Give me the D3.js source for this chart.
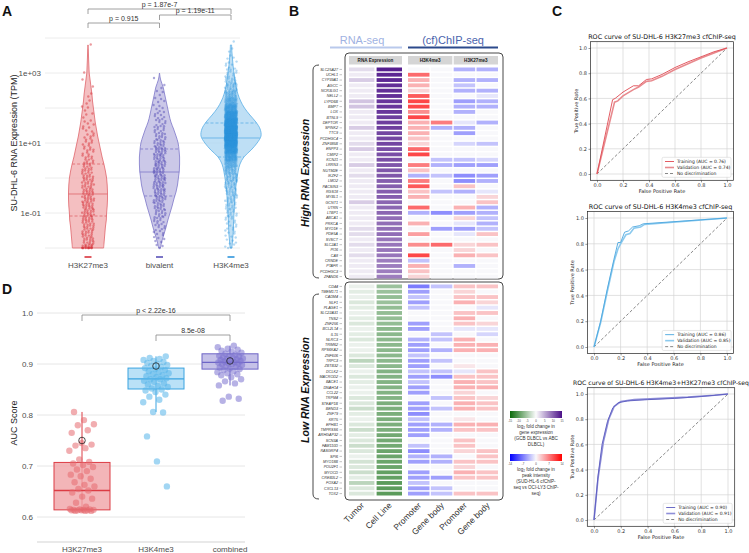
<!DOCTYPE html>
<html>
<head>
<meta charset="utf-8">
<script src="https://cdn.jsdelivr.net/npm/d3@7"></script>
<style>
body{margin:0;background:#fff}
svg{font-family:"Liberation Sans",Arial,sans-serif}
</style>
</head>
<body>
<svg id="fig" width="749" height="553"></svg>
<script>
// ---------- A: violin data (log10 TPM levels, relative density, point counts)
const violinGroups = ['H3K27me3','bivalent','H3K4me3'];
const logLevels = [-2,-1.8,-1.6,-1.4,-1.2,-1,-0.8,-0.6,-0.4,-0.2,0,0.2,0.4,0.6,0.8,1,1.2,1.4,1.6,1.8,2,2.2,2.4,2.6,2.8,3,3.2,3.4,3.6,3.8];
const densK27 = [52,54,56,58,61,62,64,65,65,64,62,58,53,47,42,37,32,28,24,21,18,15,13,10,7,4,3,2,1.3,0.7];
const densBiv = [3,8,15,22,28,35,42,48,55,60,63,66,67,67,65,62,55,47,38,32,27,22,17,12,4,0,0,0,0,0];
const densK4 = [3,5,7,8,9,10,11,13,14,17,20,24,30,43,67,87,100,97,83,63,45,32,23,17,13,10,7,5,3,2];
const countK27 = [22,14,14,14,15,16,16,16,15,14,13,12,10,9,8,7,6,5,4,3,3,2,2,1,1,1,0,0,0,1];
const countBiv = [3,4,6,8,10,12,14,16,17,18,18,18,18,17,16,14,12,10,8,7,5,4,3,2,1,0,0,0,0,0];
const countK4 = [4,5,6,7,8,10,12,14,17,20,26,34,50,80,140,230,280,260,200,140,90,55,35,22,14,9,6,4,2,1];
const violinQ1 = [-1.086,-0.514,0.6];
const violinMedian = [-0.457,0.171,1.143];
const violinQ3 = [0.4,0.829,1.571];
const tpmTicks = [0.1,10,1000];
const compA = [['H3K27me3','H3K4me3','p = 1.87e-7'],['H3K27me3','bivalent','p = 0.915'],['bivalent','H3K4me3','p = 1.19e-11']];

// ---------- D: AUC scores
const aucGroups = ['H3K27me3','H3K4me3','combined'];
const aucK27 = [0.612,0.612,0.612,0.613,0.613,0.613,0.613,0.614,0.614,0.614,0.615,0.615,0.616,0.62,0.628,0.636,0.64,0.648,0.652,0.655,0.66,0.663,0.668,0.675,0.68,0.683,0.69,0.693,0.698,0.702,0.705,0.708,0.713,0.73,0.735,0.74,0.742,0.745,0.765,0.77,0.78,0.782,0.79,0.806];
const aucK4 = [0.66,0.709,0.758,0.805,0.806,0.825,0.83,0.836,0.84,0.845,0.848,0.85,0.852,0.855,0.857,0.86,0.862,0.865,0.867,0.87,0.87,0.872,0.874,0.876,0.878,0.88,0.882,0.884,0.886,0.888,0.89,0.892,0.894,0.896,0.898,0.9,0.902,0.904,0.906,0.908,0.91,0.912,0.915];
const aucComb = [0.828,0.832,0.836,0.858,0.862,0.866,0.87,0.874,0.878,0.88,0.882,0.884,0.886,0.888,0.89,0.891,0.893,0.895,0.896,0.898,0.9,0.9,0.901,0.902,0.903,0.904,0.905,0.906,0.907,0.908,0.909,0.91,0.911,0.912,0.913,0.914,0.915,0.916,0.918,0.92,0.922,0.924,0.926,0.928,0.93,0.933,0.936];
const boxQ1 = [0.614,0.851,0.890];
const boxMedian = [0.652,0.871,0.903];
const boxQ3 = [0.707,0.892,0.920];
const whiskerLo = [0.612,0.806,0.858];
const whiskerHi = [0.806,0.915,0.936];
const aucMean = [0.750,0.896,0.906];
const aucTicks = [0.6,0.7,0.8,0.9,1.0];
const compD = [['H3K27me3','combined','p < 2.22e-16'],['H3K4me3','combined','8.5e-08']];

// ---------- B: heatmap
const highGenes = ['SLC25A27','UCHL1','CYP39A1','AGCC','NCR3LG1','NELL2','LYPD6B','BMP7','LOX','BTNL9','DEPTOR','SPINK2','TTC9','PCDHGC4','ZNF385B','ENPP3','CMIP2','KCNJ1','LRRN3','NUTM2E','IKZF2','LMO2','PACSIN3','RGS18','MYBL1','GCNT1','UTRN','LTBP1','ABCA1','PRKCA','MYO1E','PDE5A','SVSCT','SLC2A1','PI16','CA8','CRNDE','PTAFR','PCDHGC3','ZFAND6'];
const lowGenes = ['CD44','TMEM171','CADM4','NLF1','PLAGE1','SLC22A31','TNS2','ZNF256','BCL2L14','IL15','NLRC3','TRIM62','RPS6KA2','ZNF606','TRPC3','ZBTB32','DCLK2','MACROD2','BACE1','DNAH14','CCL22','TRPM4','STEAP1B','BEND3','ZNF79','KRT5','EPHB1','TMPRSS6','ARHGAP32','SCN3A','FAM110D','RASGRP4','SPI6','MYO18B','POU2F1','MYOCD','CREB3L2','FOXA2','CXCL13','TOX2'];
const highTumor = [2,1,3,1,1,1,3.5,3.5,1,1,1,3,1,1,2,3,1,1,3,1,2,1,1,1,1,3,1,1,1,1,2,2,1,2,1,2,1,1,1,1];
const highCellLine = [14,13.5,13.5,13,13,13,12.5,12.5,12.5,12,12,12,11.5,11.5,11.5,11,11,11,10.5,10.5,10.5,10,10,10,10,9.5,9.5,9.5,9,9,9,9,8.5,8.5,8.5,8.5,8,8,8,8];
const highK4Prom = [0,8,4,4,2,9,10,10,6,10,4,4,4,3,2,8,10,0,7,3,-4,7,9,3,4,0,8,-4,0,4,0,5,0,6,0,10,-3,4,3,2];
const highK4Body = [0,0,0,0,0,0,0,0,0,0,7,-4,0,0,0,0,0,-3,-4,0,-3,0,0,-3,0,0,0,-6,0,0,-5,0,0,8,0,0,0,0,0,0];
const highK27Prom = [-4,0,-4,-3,-4,0,-5,-4,-4,0,-1,-4,-5,0,-2,0,0,-3,-5,0,-6,-6,3,-4,0,0,4,-5,2,-1,-5,-1,0,2,2,4,0,-4,0,0];
const highK27Body = [-4,0,-4,0,-4,-1,-4,-4,0,0,-4,0,0,0,-3,0,0,-2,-5,0,-5,-4,0,-1,2,3,-4,-4,-3,-4,-3,3,0,3,0,3,0,0,0,0];
const lowTumor = [-1,-1.5,-1,-2,-1.5,-1,-1.5,-2,-1,-1.5,-2,-1,-1,-2,-4,-2,-1,-2,-1.5,-1,-1,-2,-2,-3,-1.5,-1,-2,-3,-1.5,-2,-3,-2,-1,-2.5,-2,-3,-1.5,-4,-2,-2];
const lowCellLine = [-6,-6,-6.5,-6,-6.5,-6.5,-6.5,-6.5,-7,-7,-7,-7,-7,-7,-7,-7,-7.5,-7.5,-7.5,-7.5,-7.5,-7.5,-8,-8,-8,-8,-8,-8,-8.5,-8.5,-8.5,-9,-9,-9,-9,-9.5,-9.5,-10,-10,-10];
const lowK4Prom = [-7,-5,-3,-5,-3,0,0,-5,-5,0,-4,-5,-5,-3,-5,-5,-3,-5,-3,-5,-5,0,-5,-5,-6,-3,-5,-5,-5,0,-3,-6,-4,-5,0,-5,-5,-3,-5,-5];
const lowK4Body = [-3,0,0,0,0,0,0,0,0,-3,-3,0,-4,0,-3,0,-3,-6,0,0,0,-3,0,-3,0,0,-4,-4,0,0,0,0,-4,-4,0,0,-5,0,-3,-3];
const lowK27Prom = [3,2,3,4,0,3,4,3,-1,0,4,4,4,0,0,1,-1,3,4,4,2,3,4,4,0,1,4,3,0,3,3,2,0,3,2,4,3,0,0,3];
const lowK27Body = [3,0,3,2,-1,3,0,2,-1,-2,0,4,4,0,0,0,3,3,3,4,0,2,3,3,0,0,4,3,0,0,0,3,3,3,0,3,3,0,0,3];
const heatColumns = ['Tumor','Cell Line','Promoter','Gene body','Promoter','Gene body'];
const rnaLegendTicks = [-15,-10,-5,0,5,10,15];
const chipLegendTicks = [-14,-7,0,7,14];

// ---------- C: ROC curves [fpr, tpr]
const rocK27Train = [[0,0],[0.12,0.59],[0.14,0.6],[0.2,0.65],[0.28,0.7],[0.32,0.7],[0.38,0.75],[0.42,0.755],[0.5,0.79],[0.6,0.845],[0.7,0.89],[0.8,0.93],[0.9,0.97],[1,1]];
const rocK27Valid = [[0,0],[0.135,0.57],[0.16,0.58],[0.2,0.62],[0.28,0.67],[0.32,0.69],[0.38,0.735],[0.42,0.74],[0.5,0.775],[0.6,0.83],[0.7,0.875],[0.8,0.92],[0.9,0.96],[1,1]];
const rocK4Train = [[0,0],[0.05,0.2],[0.1,0.45],[0.15,0.68],[0.18,0.81],[0.2,0.81],[0.23,0.89],[0.26,0.9],[0.29,0.93],[0.34,0.94],[0.37,0.955],[1,1]];
const rocK4Valid = [[0,0],[0.05,0.19],[0.1,0.43],[0.15,0.66],[0.18,0.76],[0.2,0.8],[0.24,0.87],[0.27,0.88],[0.3,0.92],[0.35,0.93],[0.38,0.95],[1,1]];
const rocCombTrain = [[0,0],[0.03,0.35],[0.06,0.6],[0.1,0.78],[0.14,0.89],[0.18,0.93],[0.25,0.945],[0.4,0.955],[0.6,0.965],[0.8,0.98],[1,1]];
const rocCombValid = [[0,0],[0.03,0.33],[0.07,0.62],[0.11,0.8],[0.15,0.9],[0.2,0.94],[0.3,0.955],[0.5,0.965],[0.7,0.975],[0.9,0.99],[1,1]];
const rocTicks = [0,0.2,0.4,0.6,0.8,1.0];

const svg = d3.select('#fig');
const frac = v => v - Math.floor(v);

let panelLabel = (t,x,y) => svg.append('text').attr('x',x).attr('y',y).text(t)
  .style('font-size','14px').style('font-weight','bold').attr('fill','#111');
panelLabel('A',2,16); panelLabel('B',289,16); panelLabel('C',552,16); panelLabel('D',2,294);

let bracket = (g, x1, x2, y, label, drop) => {
  g.append('path').attr('d',`M${x1},${y+drop}V${y}H${x2}V${y+drop}`)
    .attr('fill','none').attr('stroke','#888').attr('stroke-width',0.8);
  g.append('text').attr('x',(x1+x2)/2).attr('y',y-2).attr('text-anchor','middle')
    .style('font-size','7px').attr('fill','#333').text(label);
};

// ================= Panel A
let drawViolins = () => {
  const g = svg.append('g');
  const y = d3.scaleLog().domain([1e-2,1e4]).range([248,38]);
  const x = d3.scalePoint().domain(violinGroups).range([88,231]);
  const w = d3.scaleLinear().domain([0,100]).range([0,30]);
  const dens = [densK27,densBiv,densK4];
  const counts = [countK27,countBiv,countK4];
  const fills = ['#f0a9ac','#b9b5e0','#a8d4f2'];
  const strokes = ['#e0656b','#7d77c9','#5aaee6'];
  const dots = ['#d8333b','#5a52b8','#2f95dc'];

  g.selectAll('.grid').data(d3.range(-2,5)).enter().append('line')
    .attr('x1',45).attr('x2',240).attr('y1',d=>y(10**d)).attr('y2',d=>y(10**d))
    .attr('stroke','#ececec').attr('stroke-width',1);

  const ax = g.append('g').attr('transform','translate(45,0)')
    .call(d3.axisLeft(y).tickValues(tpmTicks).tickSize(0).tickPadding(4)
      .tickFormat(d => d3.format('.0e')(d).replace(/e([+-])(\d)$/,'e$10$2')));
  ax.select('.domain').remove();
  ax.selectAll('text').style('font-size','8px').attr('fill','#4d4d4d');

  g.append('text').attr('transform','translate(17,143) rotate(-90)').attr('text-anchor','middle')
    .style('font-size','9px').attr('fill','#222').text('SU-DHL-6 RNA Expression (TPM)');

  const widthAt = (d,L) => {
    const i = Math.max(0, Math.min(logLevels.length-2, Math.floor((L-logLevels[0])/0.2)));
    const t = (L-logLevels[i])/(logLevels[i+1]-logLevels[i]);
    return w(d[i]+(d[i+1]-d[i])*t);
  };

  violinGroups.forEach((name,gi) => {
    const cx = x(name);
    const pts = logLevels.map((L,i)=>({L, d:dens[gi][i]}))
      .filter((p,i,a)=> p.d>0 || (i>0 && a[i-1].d>0));
    const area = d3.area().curve(d3.curveCatmullRom)
      .y(p=>y(10**p.L)).x0(p=>cx-w(p.d)).x1(p=>cx+w(p.d));
    g.append('path').attr('d',area(pts)).attr('fill',fills[gi]).attr('fill-opacity',0.75)
      .attr('stroke',strokes[gi]).attr('stroke-width',0.8);

    [[violinQ1[gi],'3,2'],[violinMedian[gi],null],[violinQ3[gi],'3,2']].forEach(([q,dash]) => {
      const hw = widthAt(dens[gi],q);
      g.append('line').attr('x1',cx-hw).attr('x2',cx+hw).attr('y1',y(10**q)).attr('y2',y(10**q))
        .attr('stroke',strokes[gi]).attr('stroke-width',0.8).attr('stroke-dasharray',dash);
    });

    const cloud = [];
    counts[gi].forEach((n,li) => {
      for (let j=0;j<n;j++) {
        const L = Math.max(-2, logLevels[li] - 0.1 + 0.2*frac((j+1)*0.5698403 + gi*0.21));
        cloud.push({L, dx:(frac((j+1)*0.7548776 + li*0.137) - 0.5)*12});
      }
    });
    g.append('g').selectAll('circle').data(cloud).enter().append('circle')
      .attr('cx',d=>cx+d.dx).attr('cy',d=>y(10**d.L)).attr('r',1.2)
      .attr('fill',dots[gi]).attr('fill-opacity',gi===2?0.35:0.5);

    g.append('line').attr('x1',cx-3.5).attr('x2',cx+3.5).attr('y1',257).attr('y2',257)
      .attr('stroke',dots[gi]).attr('stroke-width',1.6);
    g.append('text').attr('x',cx).attr('y',268).attr('text-anchor','middle')
      .style('font-size','8px').attr('fill','#4d4d4d').text(name);
  });

  const levelsY = [9,23,15];
  compA.forEach((c,i)=> bracket(g, x(c[0]), x(c[1]), levelsY[i], c[2], 5));
};

// ================= Panel D
let drawBoxes = () => {
  const g = svg.append('g');
  const y = d3.scaleLinear().domain([0.6,1.0]).range([517,313]);
  const x = d3.scalePoint().domain(aucGroups).range([82,230]);
  const vals = [aucK27,aucK4,aucComb];
  const fills = ['#f0a3a6','#a9daf5','#b6b1e2'];
  const strokes = ['#dc3c44','#3aa3e0','#6d65c6'];
  const dots = ['#e66a70','#55b4ea','#7b73d0'];
  const hw = 28;

  g.selectAll('.grid').data(aucTicks).enter().append('line')
    .attr('x1',37).attr('x2',245).attr('y1',d=>y(d)).attr('y2',d=>y(d))
    .attr('stroke','#e6e6e6').attr('stroke-width',1);
  g.append('line').attr('x1',37).attr('x2',245).attr('y1',542).attr('y2',542)
    .attr('stroke','#e2e2e2').attr('stroke-width',1.5);

  const ax = g.append('g').attr('transform','translate(37,0)')
    .call(d3.axisLeft(y).tickValues(aucTicks).tickSize(0).tickPadding(4).tickFormat(d3.format('.1f')));
  ax.select('.domain').remove();
  ax.selectAll('text').style('font-size','8px').attr('fill','#4d4d4d');

  g.append('text').attr('transform','translate(17,423) rotate(-90)').attr('text-anchor','middle')
    .style('font-size','9px').attr('fill','#222').text('AUC Score');

  aucGroups.forEach((name,gi) => {
    const cx = x(name);
    g.append('line').attr('x1',cx).attr('x2',cx).attr('y1',y(whiskerLo[gi])).attr('y2',y(whiskerHi[gi]))
      .attr('stroke',strokes[gi]).attr('stroke-width',1);
    g.append('rect').attr('x',cx-hw).attr('width',hw*2)
      .attr('y',y(boxQ3[gi])).attr('height',y(boxQ1[gi])-y(boxQ3[gi]))
      .attr('fill',fills[gi]).attr('fill-opacity',0.8).attr('stroke',strokes[gi]).attr('stroke-width',1);
    g.append('line').attr('x1',cx-hw).attr('x2',cx+hw).attr('y1',y(boxMedian[gi])).attr('y2',y(boxMedian[gi]))
      .attr('stroke',strokes[gi]).attr('stroke-width',1.3);
    g.append('g').selectAll('circle').data(vals[gi]).enter().append('circle')
      .attr('cx',(d,i)=>cx+(frac((i+1)*0.618034+gi*0.3)-0.5)*26)
      .attr('cy',d=>y(d)).attr('r',3.2).attr('fill',dots[gi]).attr('fill-opacity',0.55);
    g.append('circle').attr('cx',cx).attr('cy',y(aucMean[gi])).attr('r',3.3)
      .attr('fill','none').attr('stroke','#222').attr('stroke-width',0.8);
    g.append('text').attr('x',cx).attr('y',552).attr('text-anchor','middle')
      .style('font-size','8px').attr('fill','#4d4d4d').text(name);
  });

  const levelsY = [315,335];
  compD.forEach((c,i)=> bracket(g, x(c[0]), x(c[1]), levelsY[i], c[2], 6));
};

// ================= Panel B
let drawHeatmap = () => {
  const g = svg.append('g');
  const rnaColor = d3.scaleLinear().domain([-15,0,15]).range(['#0b6b0b','#fbfbfc','#4a0f87']);
  const chipColor = d3.scaleLinear().domain([-14,0,14]).range(['#0000ff','#f8f8fb','#ff0000']);
  const rnaX = d3.scaleBand().domain([0,1]).range([349,402]).paddingInner(0.08);
  const chipX = d3.scaleBand().domain([2,3,4,5]).range([408,498]).paddingInner(0.06);
  const colX = i => i<2 ? rnaX(i) : chipX(i);
  const colW = i => i<2 ? rnaX.bandwidth() : chipX.bandwidth();

  g.append('text').attr('x',362).attr('y',44).attr('text-anchor','middle')
    .style('font-size','11px').attr('fill','#9fb2e2').text('RNA-seq');
  g.append('rect').attr('x',330).attr('y',46.5).attr('width',72).attr('height',2).attr('fill','#b9c9ec');
  g.append('text').attr('x',453).attr('y',44).attr('text-anchor','middle')
    .style('font-size','11px').attr('fill','#4a63ad').text('(cf)ChIP-seq');
  g.append('rect').attr('x',408).attr('y',46.5).attr('width',90).attr('height',2).attr('fill','#2c4a8c');

  const blocks = [
    {genes:highGenes, cols:[highTumor,highCellLine,highK4Prom,highK4Body,highK27Prom,highK27Body], top:53, y0:67.5, y1:278.5, bottom:279, label:'High RNA Expression'},
    {genes:lowGenes, cols:[lowTumor,lowCellLine,lowK4Prom,lowK4Body,lowK27Prom,lowK27Body], top:282, y0:284.5, y1:495.5, bottom:500, label:'Low RNA Expression'}
  ];

  blocks.forEach(b => {
    const y = d3.scaleBand().domain(b.genes).range([b.y0,b.y1]).paddingInner(0.28);
    g.append('rect').attr('x',345).attr('y',b.top).attr('width',158).attr('height',b.bottom-b.top)
      .attr('rx',4).attr('fill','none').attr('stroke','#333').attr('stroke-width',0.9);
    b.cols.forEach((vals,ci) => {
      g.append('g').selectAll('rect').data(vals).enter().append('rect')
        .attr('x',colX(ci)).attr('width',colW(ci))
        .attr('y',(d,i)=>y(b.genes[i])).attr('height',y.bandwidth())
        .attr('fill',d=> ci<2 ? rnaColor(d) : chipColor(d));
    });
    g.append('g').selectAll('text').data(b.genes).enter().append('text')
      .attr('x',338).attr('y',d=>y(d)+y.bandwidth()/2+1.3).attr('text-anchor','end')
      .style('font-size','3.7px').style('font-style','italic').attr('fill','#333').text(d=>d);
    g.append('g').selectAll('line').data(b.genes).enter().append('line')
      .attr('x1',339.5).attr('x2',342).attr('y1',d=>y(d)+y.bandwidth()/2).attr('y2',d=>y(d)+y.bandwidth()/2)
      .attr('stroke','#666').attr('stroke-width',0.4);
    const t = b.top+12, bt = b.bottom-1;
    g.append('path').attr('d',`M319,${t} Q313,${t} 313,${t+5} V${bt-5} Q313,${bt} 319,${bt}`)
      .attr('fill','none').attr('stroke','#333').attr('stroke-width',0.9);
    g.append('text').attr('transform',`translate(309,${(b.y0+b.y1)/2}) rotate(-90)`)
      .attr('text-anchor','middle').style('font-size','10.5px').style('font-weight','bold')
      .style('font-style','italic').attr('fill','#111').text(b.label);
  });

  [['RNA Expression',0,1],['H3K4me3',2,3],['H3K27me3',4,5]].forEach(([t,a,c]) => {
    const x0 = colX(a), x1 = colX(c)+colW(c);
    g.append('rect').attr('x',x0).attr('y',56).attr('width',x1-x0).attr('height',8.5).attr('fill','#d5d5d5');
    g.append('text').attr('x',(x0+x1)/2).attr('y',61.8).attr('text-anchor','middle')
      .style('font-size','4.6px').style('font-weight','bold').attr('fill','#222').text(t);
  });

  heatColumns.forEach((t,i) => {
    g.append('text').attr('transform',`translate(${colX(i)+colW(i)/2+3},506) rotate(-45)`)
      .attr('text-anchor','end').style('font-size','8.5px').attr('fill','#333').text(t);
  });

  // colour legends
  const legend = (y0, scale, ticks, lines, id) => {
    const grad = svg.append('defs').append('linearGradient').attr('id',id);
    ticks.forEach(v => grad.append('stop')
      .attr('offset',(v-ticks[0])/(ticks[ticks.length-1]-ticks[0])).attr('stop-color',scale(v)));
    const lx = d3.scaleLinear().domain([ticks[0],ticks[ticks.length-1]]).range([510,562]);
    g.append('rect').attr('x',510).attr('y',y0).attr('width',52).attr('height',7).attr('fill',`url(#${id})`);
    g.append('g').selectAll('text').data(ticks).enter().append('text')
      .attr('x',d=>lx(d)).attr('y',y0+11).attr('text-anchor','middle')
      .style('font-size','2.8px').attr('fill','#444').text(d=>d);
    g.append('g').selectAll('text').data(lines).enter().append('text')
      .attr('x',536).attr('y',(d,i)=>y0+17+i*6).attr('text-anchor','middle')
      .style('font-size','4.6px').attr('fill','#333').text(d=>d);
  };
  legend(411, rnaColor, rnaLegendTicks, ['log\u2082 fold change in','gene expression','(GCB DLBCL vs ABC','DLBCL)'], 'gRna');
  legend(454, chipColor, chipLegendTicks, ['log\u2082 fold change in','peak intensity','(SUD-HL-6 cfChIP-','seq vs OCI-LY3 ChIP-','seq)'], 'gChip');
};

// ================= Panel C
let drawRoc = (cfg) => {
  const g = svg.append('g');
  const x = d3.scaleLinear().domain([-0.05,1.05]).range([cfg.x0-(cfg.x1-cfg.x0)*0.05, cfg.x1+(cfg.x1-cfg.x0)*0.05]);
  const y = d3.scaleLinear().domain([-0.05,1.05]).range([cfg.y0+(cfg.y0-cfg.y1)*0.05, cfg.y1-(cfg.y0-cfg.y1)*0.05]);
  const [fl,fr] = x.range(), [fb,ft] = y.range();

  g.selectAll('.gx').data(rocTicks).enter().append('line')
    .attr('x1',d=>x(d)).attr('x2',d=>x(d)).attr('y1',ft).attr('y2',fb).attr('stroke','#d4d4d4').attr('stroke-width',0.7);
  g.selectAll('.gy').data(rocTicks).enter().append('line')
    .attr('y1',d=>y(d)).attr('y2',d=>y(d)).attr('x1',fl).attr('x2',fr).attr('stroke','#d4d4d4').attr('stroke-width',0.7);

  const bx = g.append('g').attr('transform',`translate(0,${fb})`)
    .call(d3.axisBottom(x).tickValues(rocTicks).tickSize(2).tickPadding(1.5).tickFormat(d3.format('.1f')));
  const by = g.append('g').attr('transform',`translate(${fl},0)`)
    .call(d3.axisLeft(y).tickValues(rocTicks).tickSize(2).tickPadding(1.5).tickFormat(d3.format('.1f')));
  [bx,by].forEach(a => {
    a.select('.domain').remove();
    a.selectAll('text').style('font-size','5px').attr('fill','#333').style('font-family','"DejaVu Sans",sans-serif');
    a.selectAll('line').attr('stroke','#333').attr('stroke-width',0.5);
  });
  g.append('rect').attr('x',fl).attr('y',ft).attr('width',fr-fl).attr('height',fb-ft)
    .attr('fill','none').attr('stroke','#222').attr('stroke-width',0.7);

  g.append('line').attr('x1',x(0)).attr('y1',y(0)).attr('x2',x(1)).attr('y2',y(1))
    .attr('stroke','#555').attr('stroke-width',0.7).attr('stroke-dasharray','3,2');

  const line = d3.line().x(d=>x(d[0])).y(d=>y(d[1]));
  g.append('path').attr('d',line(cfg.valid)).attr('fill','none').attr('stroke',cfg.c2).attr('stroke-width',1.6);
  g.append('path').attr('d',line(cfg.train)).attr('fill','none').attr('stroke',cfg.c1).attr('stroke-width',0.9);

  const tf = '"DejaVu Sans",sans-serif';
  g.append('text').attr('x',(fl+fr)/2).attr('y',ft-2.5).attr('text-anchor','middle')
    .style('font-size',cfg.titleSize).style('font-family',tf).attr('fill','#111').text(cfg.title);
  g.append('text').attr('x',(fl+fr)/2).attr('y',fb+13).attr('text-anchor','middle')
    .style('font-size','5px').style('font-family',tf).attr('fill','#222').text('False Positive Rate');
  g.append('text').attr('transform',`translate(${fl-13},${(ft+fb)/2}) rotate(-90)`).attr('text-anchor','middle')
    .style('font-size','5px').style('font-family',tf).attr('fill','#222').text('True Positive Rate');

  const lw = 69, lh = 20, lx = fr-2.5-lw, ly = fb-3-lh;
  g.append('rect').attr('x',lx).attr('y',ly).attr('width',lw).attr('height',lh).attr('rx',1.5)
    .attr('fill','#fff').attr('fill-opacity',0.85).attr('stroke','#ccc').attr('stroke-width',0.5);
  const entries = [[cfg.labels[0],cfg.c1,0.9,null],[cfg.labels[1],cfg.c2,1.6,null],['No discrimination','#555',0.7,'3,2']];
  entries.forEach(([t,c,sw,dash],i) => {
    const yy = ly+4.2+i*6;
    g.append('line').attr('x1',lx+3).attr('x2',lx+12).attr('y1',yy).attr('y2',yy)
      .attr('stroke',c).attr('stroke-width',sw).attr('stroke-dasharray',dash);
    g.append('text').attr('x',lx+15).attr('y',yy+1.6).style('font-size','4.5px').style('font-family',tf)
      .attr('fill','#222').text(t);
  });
};

drawViolins();
drawBoxes();
drawHeatmap();
drawRoc({x0:597,x1:727,y0:174,y1:48, train:rocK27Train, valid:rocK27Valid, c1:'#e04a52', c2:'#e88a8e', titleSize:'6.4px',
  title:'ROC curve of SU-DHL-6 H3K27me3 cfChIP-seq', labels:['Training (AUC = 0.76)','Validation (AUC = 0.74)']});
drawRoc({x0:594,x1:727,y0:347,y1:218, train:rocK4Train, valid:rocK4Valid, c1:'#4aa6df', c2:'#8ccaee', titleSize:'6.4px',
  title:'ROC curve of SU-DHL-6 H3K4me3 cfChIP-seq', labels:['Training (AUC = 0.86)','Validation (AUC = 0.85)']});
drawRoc({x0:594,x1:728,y0:520,y1:394, train:rocCombTrain, valid:rocCombValid, c1:'#5b5bc0', c2:'#8e8ed8', titleSize:'6.1px',
  title:'ROC curve of SU-DHL-6 H3K4me3+H3K27me3 cfChIP-seq', labels:['Training (AUC = 0.90)','Validation (AUC = 0.91)']});
</script>
</body>
</html>
